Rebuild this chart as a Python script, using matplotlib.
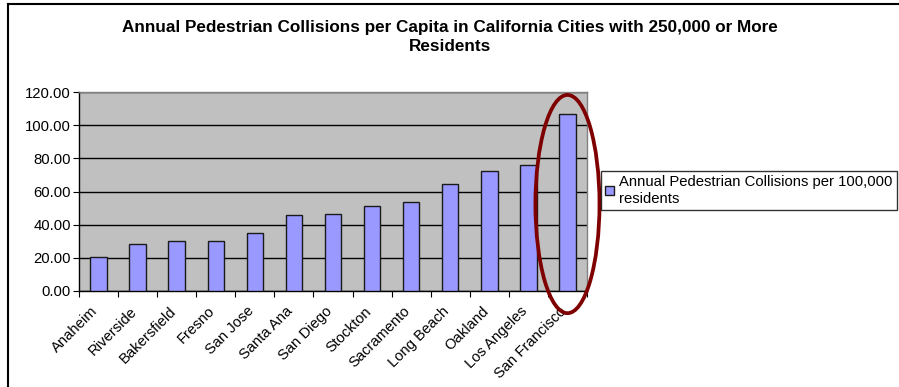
import matplotlib
matplotlib.use("Agg")
import matplotlib.pyplot as plt
from matplotlib.patches import Ellipse
from matplotlib.lines import Line2D
from matplotlib.transforms import ScaledTranslation
import numpy as np

cities = ["Anaheim", "Riverside", "Bakersfield", "Fresno", "San Jose", "Santa Ana",
          "San Diego", "Stockton", "Sacramento", "Long Beach", "Oakland",
          "Los Angeles", "San Francisco"]
collisions = [20.8, 28.3, 30.2, 30.2, 34.8, 45.7, 46.3, 51.5, 53.9, 64.7, 72.6, 76.2, 107.0]
yticks = [0, 20, 40, 60, 80, 100, 120]
series_label = "Annual Pedestrian Collisions per 100,000\nresidents"
title = "Annual Pedestrian Collisions per Capita in California Cities with 250,000 or More\nResidents"

plt.rcParams['font.family'] = ['Liberation Sans', 'DejaVu Sans']

W, H = 899, 387
fig = plt.figure(figsize=(W / 100, H / 100), dpi=100)
fig.patch.set_facecolor("white")

# outer frame (left and top visible)
fig.add_artist(Line2D([8 / W, 8 / W], [0, 1 - 4 / H], transform=fig.transFigure, color="black", lw=1.5))
fig.add_artist(Line2D([8 / W, 1], [1 - 4 / H, 1 - 4 / H], transform=fig.transFigure, color="black", lw=1.5))

ax = fig.add_axes([79 / W, (H - 291) / H, (587 - 79) / W, (291 - 92) / H])
ax.set_facecolor("#C0C0C0")
x = np.arange(len(cities))
ax.set_axisbelow(True)
ax.yaxis.grid(True, color="black", lw=1)
bars = ax.bar(x, collisions, width=0.42, color="#9999FF", edgecolor="#1a1a1a", lw=1, zorder=3,
              label=series_label)
ax.set_xlim(-0.5, len(cities) - 0.5)
ax.set_ylim(0, 120)
ax.set_yticks(yticks)
ax.set_yticklabels([f"{v:.2f}" for v in yticks], fontsize=10.7)
ax.set_xticks(np.arange(len(cities) + 1) - 0.5, minor=False)
ax.set_xticklabels([])
ax.set_xticks(x, minor=True)
ax.set_xticklabels(cities, minor=True, rotation=45, ha="right", va="center", rotation_mode="anchor",
                   fontsize=10.6)
ax.tick_params(axis="x", which="minor", length=0, pad=13)
ax.tick_params(axis="x", which="major", length=4, direction="out", color="black")
ax.tick_params(axis="y", length=4, direction="out", color="black", pad=2)
for s in ["top", "right"]:
    ax.spines[s].set_color("#808080")
    ax.spines[s].set_linewidth(1)
for s in ["left", "bottom"]:
    ax.spines[s].set_color("black")
    ax.spines[s].set_linewidth(1)

shift = ScaledTranslation(-3 / 100, 0, fig.dpi_scale_trans)
for lab in ax.get_xticklabels(minor=True):
    lab.set_transform(lab.get_transform() + shift)

# highlight ellipse around San Francisco
i_sf = cities.index("San Francisco")
v_sf = collisions[i_sf]
ell = Ellipse((i_sf, v_sf * 0.49), width=1.64, height=v_sf * 1.23, fill=False,
              edgecolor="#7F0000", lw=2.7, clip_on=False, zorder=5)
ax.add_patch(ell)

fig.text(0.5, 1 - 37 / H, title, ha="center", va="center", fontsize=12.3, fontweight="bold",
         linespacing=1.4)

leg = fig.legend(handles=[bars], labels=[series_label], loc="upper left",
                 bbox_to_anchor=(601 / W, 1 - 171 / H), fontsize=10.7, frameon=True,
                 fancybox=False, edgecolor="black", borderpad=0.3, handlelength=0.55,
                 handleheight=0.55, handletextpad=0.35, borderaxespad=0, labelspacing=0.2)
leg.get_frame().set_linewidth(1)

fig.savefig("out.png", dpi=100)
